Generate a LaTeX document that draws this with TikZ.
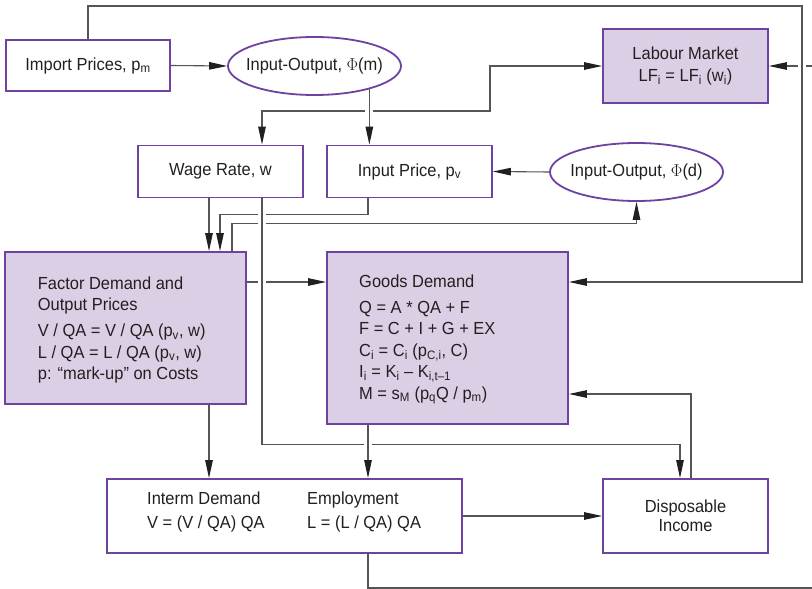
\documentclass[tikz,border=0pt]{standalone}
\usepackage{fontspec}
\setmainfont[FakeStretch=0.94]{Liberation Sans}
\usetikzlibrary{arrows.meta,shapes.geometric}
\definecolor{pborder}{HTML}{6E42A0}
\definecolor{pfill}{HTML}{DBCFE5}
\definecolor{lcol}{HTML}{555555}
\definecolor{tcol}{HTML}{231F20}
\pgfdeclarelayer{bg}
\pgfsetlayers{bg,main}
\begin{document}
\begin{tikzpicture}[x=1pt,y=-1pt,
  font=\fontsize{17.5}{21.5}\selectfont, text=tcol,
  >={Triangle[length=18pt,width=7.5pt,color=tcol]},
  box/.style={draw=pborder, line width=1.8pt, fill=white, rectangle, inner sep=0pt},
  fbox/.style={box, fill=pfill},
  ell/.style={draw=pborder, line width=1.8pt, fill=white, ellipse, inner ysep=0pt, inner xsep=-14pt,
    minimum width=173pt, minimum height=58pt},
  link/.style={draw=lcol, line width=1.1pt},
  conn/.style={link, ->},
  bridge/.style={preaction={draw=white, line width=8pt, -}},
  blocktext/.style={anchor=north west, align=left, inner sep=0pt},
]
\useasboundingbox (0,0) rectangle (812,589);

% nodes
\node[box, minimum width=164pt, minimum height=51pt] (imp) at (88,65.5) {Import Prices, p\textsubscript{m}};
\node[ell] (iom) at (314.5,66) {Input-Output, $\Phi$(m)};
\node[fbox, minimum width=165pt, minimum height=74pt, align=center] (lab) at (685.5,66)
  {Labour Market\\LF\textsubscript{i} = LF\textsubscript{i} (w\textsubscript{i})};
\node[box, minimum width=165pt, minimum height=52pt] (wage) at (220.5,171.5) {Wage Rate, w};
\node[box, minimum width=165pt, minimum height=52pt] (inp) at (409.5,171.5) {Input Price, p\textsubscript{v}};
\node[ell] (iod) at (636.5,172) {Input-Output, $\Phi$(d)};
\node[fbox, minimum width=241pt, minimum height=152pt] (fac) at (125.5,328) {};
\node[fbox, minimum width=241pt, minimum height=172pt] (goods) at (447.5,338) {};
\node[box, minimum width=355pt, minimum height=74pt] (interm) at (284.5,516) {};
\node[box, minimum width=165pt, minimum height=74pt, align=center,
  font=\fontsize{17.5}{19}\selectfont] (disp) at (685.5,516) {Disposable\\Income};

% block texts
\node[blocktext] (factxt) at (37.7,276.4) {Factor Demand and\\Output Prices\\[4.5pt]%
V / QA = V / QA (p\textsubscript{v}, w)\\L / QA = L / QA (p\textsubscript{v}, w)\\p: “mark-up” on Costs};
\node[blocktext] (goodstxt) at (359,274.4) {Goods Demand\\[4.5pt]Q = A * QA + F\\F = C + I + G + EX\\%
C\textsubscript{i} = C\textsubscript{i} (p\textsubscript{C,i}, C)\\I\textsubscript{i} = K\textsubscript{i} – K\textsubscript{i,t–1}\\%
M = s\textsubscript{M} (p\textsubscript{q}Q / p\textsubscript{m})};
\node[blocktext, font=\fontsize{17.5}{24}\selectfont] (intl) at (147,491.4) {Interm Demand\\V = (V / QA) QA};
\node[blocktext, font=\fontsize{17.5}{24}\selectfont] (intr) at (307,491.4) {Employment\\L = (L / QA) QA};

\coordinate (tr) at (802,6);
\coordinate (rin) at (812,66);
\coordinate (k5) at (490,111);
\coordinate (rout) at (812,588);

\begin{pgfonlayer}{bg}
\fill[white] (0,0) rectangle (812,589);
% crossed (horizontal) lines first
\draw[conn] (rin) -- (lab.east);
\draw[conn, bridge] (imp.north) |- (tr) |- ([yshift=56pt]goods.east);
\draw[link, <->] ([xshift=41.5pt]wage.north) |- (k5) |- (lab.west);
\draw[conn, bridge] (iom.-23.1) -- (iom.-23.1 |- inp.north);
\draw[conn] ([xshift=-41.5pt]inp.south) -- ++(0,16) -| ([xshift=94.5pt]fac.north);
\draw[conn] ([xshift=106.5pt]fac.north) -- ++(0,-28) -| (iod.south);
\draw[conn] ([yshift=46pt]fac.east) -- ([yshift=56pt]goods.west);
\draw[conn, bridge] ([xshift=41.5pt]wage.south) -- ++(0,246) -| ([xshift=-5.5pt]disp.north);
\draw[conn, bridge] ([xshift=-79.5pt]goods.south) -- ([xshift=83.5pt]interm.north);
% other connectors
\draw[conn] (imp.east) -- (iom.west);
\draw[conn] (iod.west) -- (inp.east);
\draw[conn] ([xshift=-11.5pt]wage.south) -- ([xshift=83.5pt]fac.north);
\draw[conn] ([xshift=83.5pt]fac.south) -- ([xshift=-75.5pt]interm.north);
\draw[conn] (interm.east) -- (disp.west);
\draw[conn] ([xshift=5.5pt]disp.north) |- ([yshift=-56pt]goods.east);
\draw[link] ([xshift=83.5pt]interm.south) |- (rout);
\end{pgfonlayer}
\end{tikzpicture}
\end{document}
